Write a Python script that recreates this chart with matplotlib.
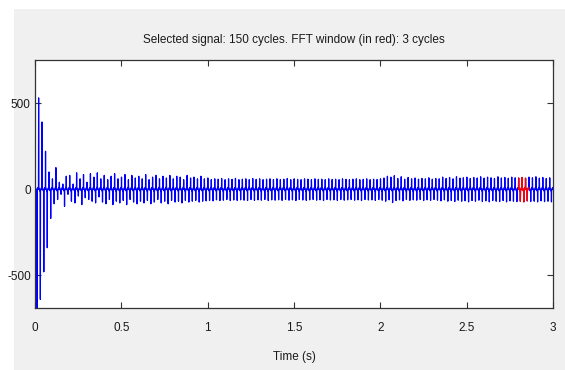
import matplotlib.pyplot as plt
from matplotlib.patches import Rectangle

# 50 Hz signal, 150 cycles over 3 s; per-cycle spike heights
cycle_len = 0.02
pos_peaks = [
    750, 530, 390, 220, 100, 60, 125, 40, 30, 75, 80, 30, 95, 60, 85, 40, 90, 70, 95, 60,
    80, 55, 75, 90, 60, 70, 85, 55, 80, 65,
    75, 60, 85, 55, 70, 80, 60, 75, 65, 80,
    60, 75, 70, 55, 80, 65, 70, 60, 75, 60,
    65, 55, 60, 58, 62, 55, 60, 57, 63, 55,
    58, 60, 55, 62, 57, 60, 55, 58, 60, 56,
    60, 55, 58, 62, 55, 60, 57, 55, 60, 58,
    55, 60, 57, 58, 55, 60, 56, 58, 55, 60,
    57, 55, 58, 60, 55, 57, 60, 55, 58, 56,
    60, 65, 75, 70, 78, 62, 72, 58, 68, 60,
    65, 58, 62, 60, 66, 58, 62, 60, 70, 62,
    68, 60, 72, 64, 66, 70, 62, 68, 65, 72,
    64, 70, 66, 62, 72, 65, 68, 63, 70, 66,
    65, 68, 64, 70, 66, 72, 64, 68, 62, 66,
]
neg_peaks = [
    -690, -640, -480, -340, -170, -85, -60, -30, -100, -30,
    -70, -80, -40, -90, -50, -60, -70, -80, -45, -75,
    -85, -60, -90, -70, -80, -65, -90, -60, -75, -85,
    -70, -80, -65, -85, -75, -60, -80, -70, -85, -65,
    -75, -70, -80, -65, -75, -70, -65, -75, -70, -68,
    -65, -68, -62, -66, -64, -60, -66, -63, -65, -62,
    -64, -66, -60, -65, -62, -64, -60, -66, -62, -64,
    -62, -65, -60, -64, -62, -66, -60, -63, -65, -62,
    -60, -64, -62, -66, -60, -63, -62, -65, -60, -64,
    -62, -60, -64, -62, -66, -60, -63, -62, -65, -60,
    -64, -70, -62, -78, -66, -62, -68, -60, -65, -62,
    -64, -60, -66, -62, -65, -60, -64, -68, -62, -70,
    -66, -72, -64, -70, -68, -74, -66, -70, -64, -72,
    -68, -74, -66, -70, -72, -66, -74, -68, -70, -72,
    -70, -74, -68, -72, -70, -74, -68, -72, -70, -74,
]
fft_start_cycle = 140
fft_cycles = 3

x_ticks = [0, 0.5, 1, 1.5, 2, 2.5, 3]
x_tick_labels = ["0", "0.5", "1", "1.5", "2", "2.5", "3"]
y_ticks = [-500, 0, 500]
y_tick_labels = ["-500", "0", "500"]

# spike shape inside one cycle (fraction of period, which peak / small ripple)
phase = [0.0, 0.05, 0.10, 0.40, 0.50, 0.55, 0.60, 0.90]
ripple = 10


def cycle_points(k):
    t0 = k * cycle_len
    p, n = pos_peaks[k], neg_peaks[k]
    vals = [0, p, ripple, -ripple, 0, n, -ripple, ripple]
    return [t0 + f * cycle_len for f in phase], vals


t, y = [], []
for k in range(len(pos_peaks)):
    tt, vv = cycle_points(k)
    t += tt
    y += vv
t.append(len(pos_peaks) * cycle_len)
y.append(0)

tr, yr = [], []
for k in range(fft_start_cycle, fft_start_cycle + fft_cycles):
    tt, vv = cycle_points(k)
    tr += tt
    yr += vv
tr.append((fft_start_cycle + fft_cycles) * cycle_len)
yr.append(0)

plt.rcParams["font.family"] = ["Liberation Sans", "DejaVu Sans"]

fig = plt.figure(figsize=(5.65, 3.70), dpi=100, facecolor="white")
fig.patches.append(Rectangle((14 / 565, 0), 1, 361 / 370, transform=fig.transFigure,
                             facecolor="#f0f0f0", edgecolor="none", zorder=-10))
ax = fig.add_axes([35 / 565, 62 / 370, 518 / 565, 248 / 370])
ax.set_facecolor("white")

ax.plot(t, y, color="#0000ff", lw=0.9)
ax.plot(tr, yr, color="#ff0000", lw=0.9)

ax.set_xlim(0, 3)
ax.set_ylim(-690, 750)
ax.set_xticks(x_ticks)
ax.set_xticklabels(x_tick_labels)
ax.set_yticks(y_ticks)
ax.set_yticklabels(y_tick_labels)
ax.tick_params(direction="in", length=4, width=0.8, color="#333333",
               top=True, right=True, labelsize=8.5, labelcolor="#1a1a1a")
ax.tick_params(axis="x", pad=10)
ax.tick_params(axis="y", pad=3)
for s in ax.spines.values():
    s.set_color("#333333")
    s.set_linewidth(0.9)

ax.set_title("Selected signal: 150 cycles. FFT window (in red): 3 cycles",
             fontsize=8.5, color="#1a1a1a", pad=12)
ax.set_xlabel("Time (s)", fontsize=8.5, color="#1a1a1a", labelpad=12)

fig.savefig("out.png", dpi=100)
